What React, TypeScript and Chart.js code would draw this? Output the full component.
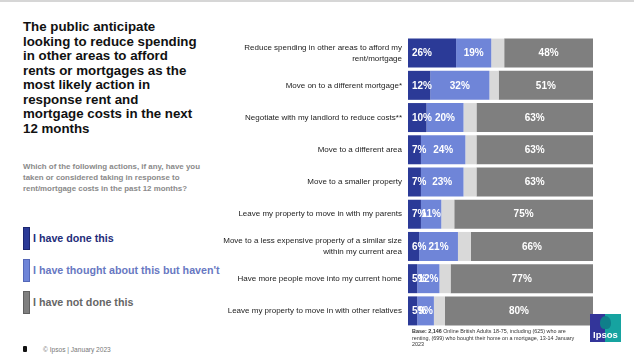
import React, { useEffect, useRef } from "react";
import { Chart, registerables } from "chart.js";

Chart.register(...registerables);

const categories: (string | string[])[] = [
  ["Reduce spending in other areas to afford my", "rent/mortgage"],
  "Move on to a different mortgage*",
  "Negotiate with my landlord to reduce costs**",
  "Move to a different area",
  "Move to a smaller property",
  "Leave my property to move in with my parents",
  ["Move to a less expensive property of a similar size", "within my current area"],
  "Have more people move into my current home",
  "Leave my property to move in with other relatives",
];

const doneThis = [26, 12, 10, 7, 7, 7, 6, 5, 5];
const thoughtAbout = [19, 32, 20, 24, 23, 11, 21, 12, 9];
const dontKnow = [7, 5, 7, 6, 7, 7, 7, 6, 6];
const notDone = [48, 51, 63, 63, 63, 75, 66, 77, 80];

const seriesNames = [
  "I have done this",
  "I have thought about this but haven't",
  "Don't know",
  "I have not done this",
];

const titleLines = [
  "The public anticipate",
  "looking to reduce spending",
  "in other areas to afford",
  "rents or mortgages as the",
  "most likely action in",
  "response rent and",
  "mortgage costs in the next",
  "12 months",
];

const subtitleLines = [
  "Which of the following actions, if any, have you",
  "taken or considered taking in response to",
  "rent/mortgage costs in the past 12 months?",
];

const COLORS = ["#2b3a97", "#6f85d8", "#d9d9d9", "#7f7f7f"];

const FONT = "Arial, 'Liberation Sans', Helvetica, sans-serif";

const labelPlugin = {
  id: "segLabels",
  afterDatasetsDraw(chart: any) {
    const ctx = chart.ctx;
    ctx.save();
    ctx.font = `bold 10px ${FONT}`;
    ctx.fillStyle = "#ffffff";
    ctx.textBaseline = "middle";
    chart.data.datasets.forEach((ds: any, di: number) => {
      if (di === 2) return;
      const meta = chart.getDatasetMeta(di);
      meta.data.forEach((bar: any, i: number) => {
        const v = ds.data[i];
        const txt = `${v}%`;
        if (di === 0) {
          ctx.textAlign = "left";
          ctx.fillText(txt, bar.base + 4, bar.y + 0.5);
        } else {
          ctx.textAlign = "center";
          ctx.fillText(txt, (bar.x + bar.base) / 2, bar.y + 0.5);
        }
      });
    });
    ctx.restore();
  },
};

const CANVAS_LEFT = 215;

function BarChart() {
  const ref = useRef<HTMLCanvasElement | null>(null);
  useEffect(() => {
    if (!ref.current) return;
    const chart = new Chart(ref.current, {
      type: "bar",
      data: {
        labels: categories,
        datasets: [doneThis, thoughtAbout, dontKnow, notDone].map((d, i) => ({
          label: seriesNames[i],
          data: d,
          backgroundColor: COLORS[i],
          borderWidth: 0,
          barPercentage: 0.9,
          categoryPercentage: 1,
        })),
      },
      options: {
        indexAxis: "y",
        animation: false,
        responsive: false,
        maintainAspectRatio: false,
        layout: { padding: { top: 7, right: 7, bottom: 3, left: 0 } },
        plugins: {
          legend: { display: false },
          tooltip: { enabled: false },
        },
        scales: {
          x: {
            stacked: true,
            min: 0,
            max: 100,
            display: false,
          },
          y: {
            stacked: true,
            grid: { display: false, drawTicks: false },
            border: { display: false },
            ticks: {
              color: "#222222",
              padding: 6,
              font: { family: FONT, size: 8, lineHeight: 1.4 },
            },
            afterFit(scale: any) {
              scale.width = 408 - CANVAS_LEFT;
              scale.paddingTop = 0;
              scale.paddingBottom = 0;
            },
          },
        },
      },
      plugins: [labelPlugin],
    } as any);
    return () => chart.destroy();
  }, []);
  return (
    <canvas
      ref={ref}
      width={385}
      height={300}
      style={{ position: "absolute", left: CANVAS_LEFT, top: 30, width: 385, height: 300 }}
    />
  );
}

const legendItems = [
  { text: seriesNames[0], color: COLORS[0], border: "#1c2670", textColor: "#1f2d7a", top: 227 },
  { text: seriesNames[1], color: COLORS[1], border: "#5468b8", textColor: "#6878c2", top: 259 },
  { text: seriesNames[3], color: COLORS[3], border: "#606060", textColor: "#666666", top: 291 },
];

export default function App() {
  return (
    <div
      style={{
        position: "absolute",
        left: 0,
        top: 0,
        width: 634,
        height: 363,
        background: "#ffffff",
        overflow: "hidden",
        fontFamily: FONT,
      }}
    >
      <div style={{ position: "absolute", left: 0, top: 0, width: 634, height: 2, background: "#d6d6d6" }} />
      <div
        style={{
          position: "absolute",
          left: 23,
          top: 20,
          fontSize: 13.3,
          lineHeight: "14.5px",
          fontWeight: "bold",
          color: "#111111",
          whiteSpace: "nowrap",
        }}
      >
        {titleLines.map((l) => (
          <div key={l}>{l}</div>
        ))}
      </div>
      <div
        style={{
          position: "absolute",
          left: 23,
          top: 161,
          fontSize: 7.9,
          lineHeight: "11px",
          fontWeight: "bold",
          color: "#8a8a8a",
          whiteSpace: "nowrap",
        }}
      >
        {subtitleLines.map((l) => (
          <div key={l}>{l}</div>
        ))}
      </div>
      {legendItems.map((it) => (
        <div key={it.text}>
          <div
            style={{
              position: "absolute",
              left: 23,
              top: it.top,
              width: 5,
              height: 21,
              background: it.color,
              border: `1px solid ${it.border}`,
            }}
          />
          <div
            style={{
              position: "absolute",
              left: 33,
              top: it.top + 5,
              fontSize: 10.7,
              lineHeight: "13px",
              fontWeight: "bold",
              color: it.textColor,
              whiteSpace: "nowrap",
            }}
          >
            {it.text}
          </div>
        </div>
      ))}
      <div style={{ position: "absolute", left: 23, top: 346, width: 4, height: 6, background: "#111", borderRadius: 1 }} />
      <div style={{ position: "absolute", left: 43, top: 345, fontSize: 6.6, lineHeight: "9px", color: "#777777", whiteSpace: "nowrap" }}>
        © Ipsos | January 2023
      </div>
      <BarChart />
      <div
        style={{
          position: "absolute",
          left: 412,
          top: 328,
          fontSize: 5.4,
          lineHeight: "6.7px",
          color: "#333333",
          whiteSpace: "nowrap",
        }}
      >
        <div>
          <b>Base: 2,146</b> Online British Adults 18-75, including (625) who are
        </div>
        <div>renting, (699) who bought their home on a mortgage, 13-14 January</div>
        <div>2023</div>
      </div>
      <div
        style={{
          position: "absolute",
          left: 590,
          top: 314,
          width: 31,
          height: 28,
          background: "linear-gradient(to right, #33359a 0%, #33359a 50%, #16a3a0 50%, #16a3a0 100%)",
          overflow: "hidden",
        }}
      >
        <div
          style={{
            position: "absolute",
            left: 10,
            top: 2,
            width: 11,
            height: 13,
            borderRadius: "50% 50% 40% 40%",
            background: "#0f7f8a",
          }}
        />
        <div
          style={{
            position: "absolute",
            left: 0,
            top: 15,
            width: 31,
            textAlign: "center",
            color: "#ffffff",
            fontWeight: "bold",
            fontSize: 9.5,
            lineHeight: "11px",
          }}
        >
          Ipsos
        </div>
      </div>
    </div>
  );
}
